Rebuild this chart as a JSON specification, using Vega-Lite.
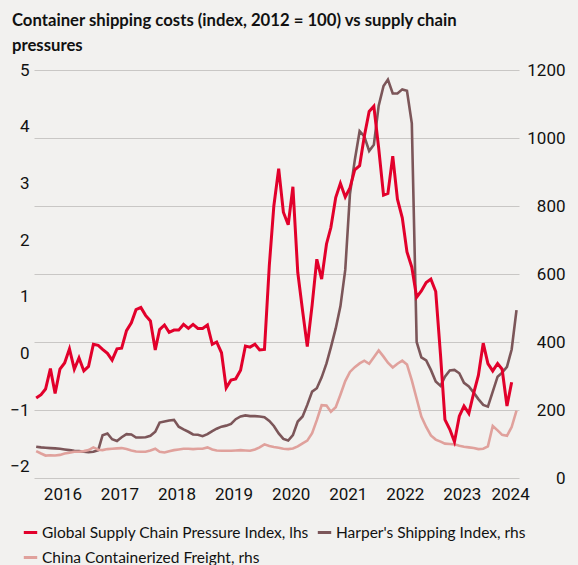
{
  "$schema": "https://vega.github.io/schema/vega-lite/v6.json",
  "width": 485,
  "height": 408,
  "autosize": {"type": "none"},
  "padding": {"left": 34, "top": 70, "right": 59, "bottom": 87},
  "background": "#f2f1ef",
  "config": {
    "view": {"stroke": null},
    "font": "Roboto"
  },
  "title": {
    "text": ["Container shipping costs (index, 2012 = 100) vs supply chain", "pressures"],
    "anchor": "start",
    "frame": "group",
    "dx": -22,
    "font": "Lato",
    "fontSize": 16.7,
    "fontWeight": "bold",
    "color": "#111111",
    "lineHeight": 25,
    "offset": 6
  },
  "data": {
    "values": [
      {"d":"2016-01-15","s":"g","v":-0.79},{"d":"2016-02-15","s":"g","v":-0.73},{"d":"2016-03-15","s":"g","v":-0.63},{"d":"2016-04-15","s":"g","v":-0.27},{"d":"2016-05-15","s":"g","v":-0.71},{"d":"2016-06-15","s":"g","v":-0.28},{"d":"2016-07-15","s":"g","v":-0.17},{"d":"2016-08-15","s":"g","v":0.08},{"d":"2016-09-15","s":"g","v":-0.28},{"d":"2016-10-15","s":"g","v":-0.08},{"d":"2016-11-15","s":"g","v":-0.31},{"d":"2016-12-15","s":"g","v":-0.23},
      {"d":"2017-01-15","s":"g","v":0.16},{"d":"2017-02-15","s":"g","v":0.14},{"d":"2017-03-15","s":"g","v":0.07},{"d":"2017-04-15","s":"g","v":0.0},{"d":"2017-05-15","s":"g","v":-0.12},{"d":"2017-06-15","s":"g","v":0.08},{"d":"2017-07-15","s":"g","v":0.09},{"d":"2017-08-15","s":"g","v":0.40},{"d":"2017-09-15","s":"g","v":0.54},{"d":"2017-10-15","s":"g","v":0.77},{"d":"2017-11-15","s":"g","v":0.81},{"d":"2017-12-15","s":"g","v":0.67},
      {"d":"2018-01-15","s":"g","v":0.57},{"d":"2018-02-15","s":"g","v":0.06},{"d":"2018-03-15","s":"g","v":0.42},{"d":"2018-04-15","s":"g","v":0.50},{"d":"2018-05-15","s":"g","v":0.37},{"d":"2018-06-15","s":"g","v":0.41},{"d":"2018-07-15","s":"g","v":0.41},{"d":"2018-08-15","s":"g","v":0.51},{"d":"2018-09-15","s":"g","v":0.44},{"d":"2018-10-15","s":"g","v":0.51},{"d":"2018-11-15","s":"g","v":0.44},{"d":"2018-12-15","s":"g","v":0.44},
      {"d":"2019-01-15","s":"g","v":0.50},{"d":"2019-02-15","s":"g","v":0.16},{"d":"2019-03-15","s":"g","v":0.20},{"d":"2019-04-15","s":"g","v":0.01},{"d":"2019-05-15","s":"g","v":-0.61},{"d":"2019-06-15","s":"g","v":-0.47},{"d":"2019-07-15","s":"g","v":-0.45},{"d":"2019-08-15","s":"g","v":-0.30},{"d":"2019-09-15","s":"g","v":0.13},{"d":"2019-10-15","s":"g","v":0.11},{"d":"2019-11-15","s":"g","v":0.16},{"d":"2019-12-15","s":"g","v":0.06},
      {"d":"2020-01-15","s":"g","v":0.07},{"d":"2020-02-15","s":"g","v":1.55},{"d":"2020-03-15","s":"g","v":2.60},{"d":"2020-04-15","s":"g","v":3.26},{"d":"2020-05-15","s":"g","v":2.49},{"d":"2020-06-15","s":"g","v":2.27},{"d":"2020-07-15","s":"g","v":2.94},{"d":"2020-08-15","s":"g","v":1.43},{"d":"2020-09-15","s":"g","v":0.75},{"d":"2020-10-15","s":"g","v":0.12},{"d":"2020-11-15","s":"g","v":0.85},{"d":"2020-12-15","s":"g","v":1.66},
      {"d":"2021-01-15","s":"g","v":1.31},{"d":"2021-02-15","s":"g","v":1.93},{"d":"2021-03-15","s":"g","v":2.22},{"d":"2021-04-15","s":"g","v":2.75},{"d":"2021-05-15","s":"g","v":3.00},{"d":"2021-06-15","s":"g","v":2.76},{"d":"2021-07-15","s":"g","v":2.92},{"d":"2021-08-15","s":"g","v":3.24},{"d":"2021-09-15","s":"g","v":3.31},{"d":"2021-10-15","s":"g","v":3.83},{"d":"2021-11-15","s":"g","v":4.27},{"d":"2021-12-15","s":"g","v":4.36},
      {"d":"2022-01-15","s":"g","v":3.62},{"d":"2022-02-15","s":"g","v":2.79},{"d":"2022-03-15","s":"g","v":2.82},{"d":"2022-04-15","s":"g","v":3.48},{"d":"2022-05-15","s":"g","v":2.72},{"d":"2022-06-15","s":"g","v":2.39},{"d":"2022-07-15","s":"g","v":1.79},{"d":"2022-08-15","s":"g","v":1.52},{"d":"2022-09-15","s":"g","v":0.99},{"d":"2022-10-15","s":"g","v":1.10},{"d":"2022-11-15","s":"g","v":1.25},{"d":"2022-12-15","s":"g","v":1.31},
      {"d":"2023-01-15","s":"g","v":1.09},{"d":"2023-02-15","s":"g","v":-0.04},{"d":"2023-03-15","s":"g","v":-1.17},{"d":"2023-04-15","s":"g","v":-1.34},{"d":"2023-05-15","s":"g","v":-1.56},{"d":"2023-06-15","s":"g","v":-1.11},{"d":"2023-07-15","s":"g","v":-0.93},{"d":"2023-08-15","s":"g","v":-1.06},{"d":"2023-09-15","s":"g","v":-0.70},{"d":"2023-10-15","s":"g","v":-0.39},{"d":"2023-11-15","s":"g","v":0.18},{"d":"2023-12-15","s":"g","v":-0.18},
      {"d":"2024-01-15","s":"g","v":-0.31},{"d":"2024-02-15","s":"g","v":-0.18},{"d":"2024-03-15","s":"g","v":-0.28},{"d":"2024-04-15","s":"g","v":-0.93},{"d":"2024-05-15","s":"g","v":-0.51},

      {"d":"2016-01-15","s":"h","v":92},{"d":"2016-02-15","s":"h","v":90},{"d":"2016-03-15","s":"h","v":89},{"d":"2016-04-15","s":"h","v":88},{"d":"2016-05-15","s":"h","v":87},{"d":"2016-06-15","s":"h","v":86},{"d":"2016-07-15","s":"h","v":84},{"d":"2016-08-15","s":"h","v":82},{"d":"2016-09-15","s":"h","v":80},{"d":"2016-10-15","s":"h","v":79},{"d":"2016-11-15","s":"h","v":77},{"d":"2016-12-15","s":"h","v":76},
      {"d":"2017-01-15","s":"h","v":77},{"d":"2017-02-15","s":"h","v":82},{"d":"2017-03-15","s":"h","v":126},{"d":"2017-04-15","s":"h","v":131},{"d":"2017-05-15","s":"h","v":114},{"d":"2017-06-15","s":"h","v":109},{"d":"2017-07-15","s":"h","v":120},{"d":"2017-08-15","s":"h","v":129},{"d":"2017-09-15","s":"h","v":128},{"d":"2017-10-15","s":"h","v":119},{"d":"2017-11-15","s":"h","v":119},{"d":"2017-12-15","s":"h","v":120},
      {"d":"2018-01-15","s":"h","v":124},{"d":"2018-02-15","s":"h","v":136},{"d":"2018-03-15","s":"h","v":163},{"d":"2018-04-15","s":"h","v":166},{"d":"2018-05-15","s":"h","v":169},{"d":"2018-06-15","s":"h","v":171},{"d":"2018-07-15","s":"h","v":151},{"d":"2018-08-15","s":"h","v":143},{"d":"2018-09-15","s":"h","v":136},{"d":"2018-10-15","s":"h","v":128},{"d":"2018-11-15","s":"h","v":127},{"d":"2018-12-15","s":"h","v":123},
      {"d":"2019-01-15","s":"h","v":129},{"d":"2019-02-15","s":"h","v":138},{"d":"2019-03-15","s":"h","v":145},{"d":"2019-04-15","s":"h","v":151},{"d":"2019-05-15","s":"h","v":154},{"d":"2019-06-15","s":"h","v":159},{"d":"2019-07-15","s":"h","v":173},{"d":"2019-08-15","s":"h","v":181},{"d":"2019-09-15","s":"h","v":184},{"d":"2019-10-15","s":"h","v":182},{"d":"2019-11-15","s":"h","v":182},{"d":"2019-12-15","s":"h","v":181},
      {"d":"2020-01-15","s":"h","v":179},{"d":"2020-02-15","s":"h","v":168},{"d":"2020-03-15","s":"h","v":153},{"d":"2020-04-15","s":"h","v":131},{"d":"2020-05-15","s":"h","v":115},{"d":"2020-06-15","s":"h","v":110},{"d":"2020-07-15","s":"h","v":126},{"d":"2020-08-15","s":"h","v":166},{"d":"2020-09-15","s":"h","v":181},{"d":"2020-10-15","s":"h","v":215},{"d":"2020-11-15","s":"h","v":254},{"d":"2020-12-15","s":"h","v":264},
      {"d":"2021-01-15","s":"h","v":296},{"d":"2021-02-15","s":"h","v":337},{"d":"2021-03-15","s":"h","v":384},{"d":"2021-04-15","s":"h","v":440},{"d":"2021-05-15","s":"h","v":505},{"d":"2021-06-15","s":"h","v":612},{"d":"2021-07-15","s":"h","v":835},{"d":"2021-08-15","s":"h","v":935},{"d":"2021-09-15","s":"h","v":1020},{"d":"2021-10-15","s":"h","v":1005},{"d":"2021-11-15","s":"h","v":962},{"d":"2021-12-15","s":"h","v":980},
      {"d":"2022-01-15","s":"h","v":1095},{"d":"2022-02-15","s":"h","v":1153},{"d":"2022-03-15","s":"h","v":1172},{"d":"2022-04-15","s":"h","v":1131},{"d":"2022-05-15","s":"h","v":1131},{"d":"2022-06-15","s":"h","v":1143},{"d":"2022-07-15","s":"h","v":1139},{"d":"2022-08-15","s":"h","v":1043},{"d":"2022-09-15","s":"h","v":400},{"d":"2022-10-15","s":"h","v":355},{"d":"2022-11-15","s":"h","v":346},{"d":"2022-12-15","s":"h","v":318},
      {"d":"2023-01-15","s":"h","v":284},{"d":"2023-02-15","s":"h","v":271},{"d":"2023-03-15","s":"h","v":298},{"d":"2023-04-15","s":"h","v":316},{"d":"2023-05-15","s":"h","v":318},{"d":"2023-06-15","s":"h","v":308},{"d":"2023-07-15","s":"h","v":280},{"d":"2023-08-15","s":"h","v":269},{"d":"2023-09-15","s":"h","v":251},{"d":"2023-10-15","s":"h","v":232},{"d":"2023-11-15","s":"h","v":215},{"d":"2023-12-15","s":"h","v":210},
      {"d":"2024-01-15","s":"h","v":254},{"d":"2024-02-15","s":"h","v":298},{"d":"2024-03-15","s":"h","v":310},{"d":"2024-04-15","s":"h","v":327},{"d":"2024-05-15","s":"h","v":378},{"d":"2024-06-15","s":"h","v":494},

      {"d":"2016-01-15","s":"c","v":79},{"d":"2016-02-15","s":"c","v":72},{"d":"2016-03-15","s":"c","v":66},{"d":"2016-04-15","s":"c","v":67},{"d":"2016-05-15","s":"c","v":66},{"d":"2016-06-15","s":"c","v":68},{"d":"2016-07-15","s":"c","v":72},{"d":"2016-08-15","s":"c","v":74},{"d":"2016-09-15","s":"c","v":77},{"d":"2016-10-15","s":"c","v":77},{"d":"2016-11-15","s":"c","v":79},{"d":"2016-12-15","s":"c","v":82},
      {"d":"2017-01-15","s":"c","v":90},{"d":"2017-02-15","s":"c","v":83},{"d":"2017-03-15","s":"c","v":82},{"d":"2017-04-15","s":"c","v":85},{"d":"2017-05-15","s":"c","v":86},{"d":"2017-06-15","s":"c","v":87},{"d":"2017-07-15","s":"c","v":88},{"d":"2017-08-15","s":"c","v":85},{"d":"2017-09-15","s":"c","v":81},{"d":"2017-10-15","s":"c","v":78},{"d":"2017-11-15","s":"c","v":77},{"d":"2017-12-15","s":"c","v":77},
      {"d":"2018-01-15","s":"c","v":81},{"d":"2018-02-15","s":"c","v":86},{"d":"2018-03-15","s":"c","v":77},{"d":"2018-04-15","s":"c","v":75},{"d":"2018-05-15","s":"c","v":79},{"d":"2018-06-15","s":"c","v":82},{"d":"2018-07-15","s":"c","v":84},{"d":"2018-08-15","s":"c","v":86},{"d":"2018-09-15","s":"c","v":86},{"d":"2018-10-15","s":"c","v":85},{"d":"2018-11-15","s":"c","v":86},{"d":"2018-12-15","s":"c","v":86},
      {"d":"2019-01-15","s":"c","v":90},{"d":"2019-02-15","s":"c","v":84},{"d":"2019-03-15","s":"c","v":81},{"d":"2019-04-15","s":"c","v":80},{"d":"2019-05-15","s":"c","v":80},{"d":"2019-06-15","s":"c","v":80},{"d":"2019-07-15","s":"c","v":81},{"d":"2019-08-15","s":"c","v":82},{"d":"2019-09-15","s":"c","v":81},{"d":"2019-10-15","s":"c","v":80},{"d":"2019-11-15","s":"c","v":84},{"d":"2019-12-15","s":"c","v":90},
      {"d":"2020-01-15","s":"c","v":99},{"d":"2020-02-15","s":"c","v":94},{"d":"2020-03-15","s":"c","v":91},{"d":"2020-04-15","s":"c","v":89},{"d":"2020-05-15","s":"c","v":86},{"d":"2020-06-15","s":"c","v":85},{"d":"2020-07-15","s":"c","v":87},{"d":"2020-08-15","s":"c","v":93},{"d":"2020-09-15","s":"c","v":102},{"d":"2020-10-15","s":"c","v":110},{"d":"2020-11-15","s":"c","v":132},{"d":"2020-12-15","s":"c","v":170},
      {"d":"2021-01-15","s":"c","v":214},{"d":"2021-02-15","s":"c","v":213},{"d":"2021-03-15","s":"c","v":195},{"d":"2021-04-15","s":"c","v":208},{"d":"2021-05-15","s":"c","v":245},{"d":"2021-06-15","s":"c","v":285},{"d":"2021-07-15","s":"c","v":312},{"d":"2021-08-15","s":"c","v":326},{"d":"2021-09-15","s":"c","v":337},{"d":"2021-10-15","s":"c","v":345},{"d":"2021-11-15","s":"c","v":336},{"d":"2021-12-15","s":"c","v":355},
      {"d":"2022-01-15","s":"c","v":375},{"d":"2022-02-15","s":"c","v":357},{"d":"2022-03-15","s":"c","v":339},{"d":"2022-04-15","s":"c","v":325},{"d":"2022-05-15","s":"c","v":336},{"d":"2022-06-15","s":"c","v":345},{"d":"2022-07-15","s":"c","v":334},{"d":"2022-08-15","s":"c","v":287},{"d":"2022-09-15","s":"c","v":233},{"d":"2022-10-15","s":"c","v":181},{"d":"2022-11-15","s":"c","v":150},{"d":"2022-12-15","s":"c","v":125},
      {"d":"2023-01-15","s":"c","v":113},{"d":"2023-02-15","s":"c","v":107},{"d":"2023-03-15","s":"c","v":101},{"d":"2023-04-15","s":"c","v":100},{"d":"2023-05-15","s":"c","v":99},{"d":"2023-06-15","s":"c","v":95},{"d":"2023-07-15","s":"c","v":92},{"d":"2023-08-15","s":"c","v":90},{"d":"2023-09-15","s":"c","v":88},{"d":"2023-10-15","s":"c","v":85},{"d":"2023-11-15","s":"c","v":86},{"d":"2023-12-15","s":"c","v":93},
      {"d":"2024-01-15","s":"c","v":153},{"d":"2024-02-15","s":"c","v":140},{"d":"2024-03-15","s":"c","v":127},{"d":"2024-04-15","s":"c","v":124},{"d":"2024-05-15","s":"c","v":150},{"d":"2024-06-15","s":"c","v":198}
    ]
  },
  "encoding": {
    "x": {
      "field": "d",
      "type": "temporal",
      "scale": {
        "type": "utc",
        "domain": [{"year": 2016, "month": 1, "date": 1, "utc": true}, {"year": 2024, "month": 7, "date": 1, "utc": true}]
      },
      "axis": {
        "title": null,
        "format": "%Y",
        "values": [
          {"year": 2016, "month": 7, "date": 1, "utc": true},
          {"year": 2017, "month": 7, "date": 1, "utc": true},
          {"year": 2018, "month": 7, "date": 1, "utc": true},
          {"year": 2019, "month": 7, "date": 1, "utc": true},
          {"year": 2020, "month": 7, "date": 1, "utc": true},
          {"year": 2021, "month": 7, "date": 1, "utc": true},
          {"year": 2022, "month": 7, "date": 1, "utc": true},
          {"year": 2023, "month": 7, "date": 1, "utc": true},
          {"year": 2024, "month": 5, "date": 5, "utc": true}
        ],
        "grid": false,
        "ticks": false,
        "tickSize": 0,
        "domain": false,
        "labelFont": "Roboto",
        "labelFontSize": 17,
        "labelColor": "#111111",
        "labelPadding": 8
      }
    },
    "color": {
      "field": "s",
      "type": "nominal",
      "scale": {"domain": ["g", "h", "c"], "range": ["#e2002b", "#7c5659", "#e0a19c"]},
      "legend": {
        "title": null,
        "orient": "none",
        "legendX": -12,
        "legendY": 454,
        "direction": "horizontal",
        "columns": 2,
        "padding": 0,
        "symbolType": "stroke",
        "symbolStrokeWidth": 3,
        "symbolSize": 180,
        "labelFont": "Lato",
        "labelFontSize": 15.5,
        "labelColor": "#111111",
        "labelOffset": 3,
        "columnPadding": 2,
        "rowPadding": 8,
        "labelLimit": 400,
        "labelExpr": "datum.label == 'g' ? 'Global Supply Chain Pressure Index, lhs' : datum.label == 'h' ? \"Harper's Shipping Index, rhs\" : 'China Containerized Freight, rhs'"
      }
    }
  },
  "layer": [
    {
      "transform": [{"filter": "datum.s != 'g'"}],
      "mark": {"type": "line", "strokeWidth": 2.6, "interpolate": "linear"},
      "encoding": {
        "y": {
          "field": "v",
          "type": "quantitative",
          "scale": {"domain": [0, 1200], "nice": false, "zero": false},
          "axis": {
            "orient": "right",
            "title": null,
            "format": "d",
            "values": [0, 200, 400, 600, 800, 1000, 1200],
            "grid": true,
            "gridColor": "#c9c7c5",
            "gridWidth": 1.2,
            "ticks": false,
            "tickSize": 0,
            "domain": false,
            "labelAlign": "right",
            "labelBaseline": "middle",
            "labelPadding": 46,
            "labelFont": "Roboto",
            "labelFontSize": 17,
            "labelColor": "#111111"
          }
        }
      }
    },
    {
      "transform": [{"filter": "datum.s == 'g'"}],
      "mark": {"type": "line", "strokeWidth": 3, "interpolate": "linear"},
      "encoding": {
        "y": {
          "field": "v",
          "type": "quantitative",
          "scale": {"domain": [-2.2, 5], "nice": false, "zero": false},
          "axis": {
            "orient": "left",
            "title": null,
            "values": [-2, -1, 0, 1, 2, 3, 4, 5],
            "grid": false,
            "ticks": false,
            "tickSize": 0,
            "domain": false,
            "labelAlign": "right",
            "labelBaseline": "middle",
            "labelPadding": 5,
            "labelFont": "Roboto",
            "labelFontSize": 17,
            "labelColor": "#111111"
          }
        }
      }
    }
  ],
  "resolve": {"scale": {"y": "independent"}, "axis": {"y": "independent"}}
}
